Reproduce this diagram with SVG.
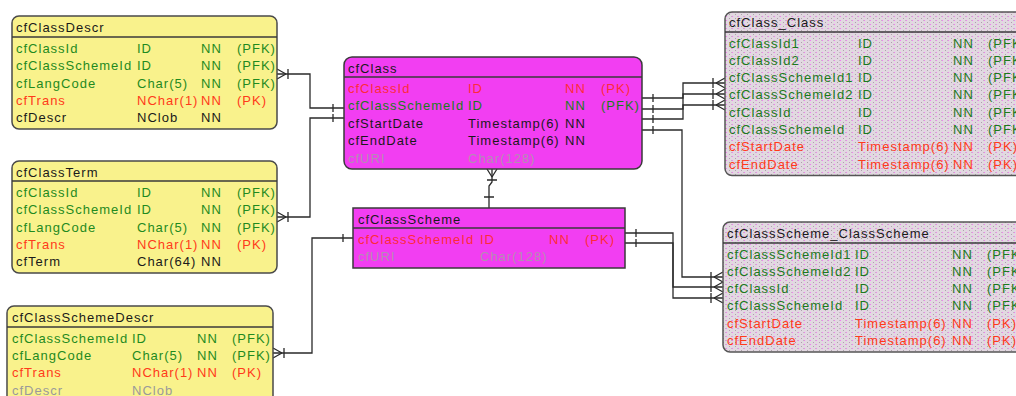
<svg xmlns="http://www.w3.org/2000/svg" width="1016" height="396" viewBox="0 0 1016 396">
<defs>
<pattern id="dots" width="6" height="4" patternUnits="userSpaceOnUse">
<rect width="6" height="4" fill="#e2d8e1"/>
<rect x="0" y="0" width="1" height="1" fill="#f07ef0"/>
<rect x="3" y="2" width="1" height="1" fill="#aca2ab"/>
<rect x="5" y="0" width="1" height="1" fill="#c4bac3"/>
</pattern>
</defs>
<style>
text{font-family:"Liberation Sans",Arial,sans-serif;font-size:13px;letter-spacing:1px;fill:#1a1a1a}
.y{fill:#f9f28c;stroke:#4a4a4a;stroke-width:1.5}
.m{fill:#f23ef2;stroke:#3a3a3a;stroke-width:1.5}
.p{fill:url(#dots);stroke:#555;stroke-width:1.5}
.hl{stroke:#3a3a3a;stroke-width:1.5}
.g{fill:#1f8a1f}
.gm{fill:#1c7a1c}
.r{fill:#ff3a1a}
.rm{fill:#ff2a3a}
.gr{fill:#9a9a9a}
.gl{fill:#b48cb4}
.c{fill:none;stroke:#2a2a2a;stroke-width:1.3}
</style>

<g id="connectors">
<path class="c" d="M277,74 H310 V108 H344"/>
<path class="c" d="M277,69 L286,74 M277,79 L286,74 M288,69 V79 M333,104 V112"/>
<path class="c" d="M277,217 H310 V118 H344"/>
<path class="c" d="M277,212 L286,217 M277,222 L286,217 M288,212 V222 M333,114 V122"/>
<path class="c" d="M273,353 H312 V238 H353"/>
<path class="c" d="M273,348 L282,353 M273,358 L282,353 M284,348 V358 M343,234 V242"/>
<path class="c" d="M492,169 V182 L489,186 V208"/>
<path class="c" d="M487,169 L492,177 M497,169 L492,177 M487,180 H497 M484,197 H494"/>
<path class="c" d="M642,98 H683 V83 H725"/>
<path class="c" d="M642,109 H683 V94 H725"/>
<path class="c" d="M642,119 H683 V105 H725"/>
<path class="c" d="M725,78 L716,83 M725,88 L716,83 M713,78 V88"/>
<path class="c" d="M725,89 L716,94 M725,99 L716,94 M713,89 V99"/>
<path class="c" d="M725,100 L716,105 M725,110 L716,105 M713,100 V110"/>
<path class="c" d="M653,94 V102 M653,105 V113 M653,115 V123 M653,126 V134"/>
<path class="c" d="M642,130 H682 V277 H723"/>
<path class="c" d="M723,272 L714,277 M723,282 L714,277 M711,272 V282"/>
<path class="c" d="M625,233 H673 V287 H723"/>
<path class="c" d="M625,243 H673 V298 H723"/>
<path class="c" d="M723,282 L714,287 M723,292 L714,287 M711,282 V292"/>
<path class="c" d="M723,293 L714,298 M723,303 L714,298 M711,293 V303"/>
<path class="c" d="M636,229 V237 M636,239 V247"/>
</g>

<g id="cfClassDescr">
<rect class="y" x="12" y="16" width="265" height="113" rx="7"/>
<line class="hl" x1="12" y1="37" x2="277" y2="37"/>
<text x="16" y="32">cfClassDescr</text>
<text class="g" x="16" y="52.5">cfClassId</text><text class="g" x="137" y="52.5">ID</text><text class="g" x="201" y="52.5">NN</text><text class="g" x="237" y="52.5">(PFK)</text>
<text class="g" x="16" y="70">cfClassSchemeId</text><text class="g" x="137" y="70">ID</text><text class="g" x="201" y="70">NN</text><text class="g" x="237" y="70">(PFK)</text>
<text class="g" x="16" y="87.5">cfLangCode</text><text class="g" x="137" y="87.5">Char(5)</text><text class="g" x="201" y="87.5">NN</text><text class="g" x="237" y="87.5">(PFK)</text>
<text class="r" x="16" y="104.5">cfTrans</text><text class="r" x="137" y="104.5">NChar(1)</text><text class="r" x="201" y="104.5">NN</text><text class="r" x="237" y="104.5">(PK)</text>
<text x="16" y="122">cfDescr</text><text x="137" y="122">NClob</text><text x="201" y="122">NN</text>
</g>

<g id="cfClassTerm">
<rect class="y" x="12" y="161" width="265" height="112" rx="7"/>
<line class="hl" x1="12" y1="181" x2="277" y2="181"/>
<text x="16" y="177">cfClassTerm</text>
<text class="g" x="16" y="196.5">cfClassId</text><text class="g" x="137" y="196.5">ID</text><text class="g" x="201" y="196.5">NN</text><text class="g" x="237" y="196.5">(PFK)</text>
<text class="g" x="16" y="214">cfClassSchemeId</text><text class="g" x="137" y="214">ID</text><text class="g" x="201" y="214">NN</text><text class="g" x="237" y="214">(PFK)</text>
<text class="g" x="16" y="231.5">cfLangCode</text><text class="g" x="137" y="231.5">Char(5)</text><text class="g" x="201" y="231.5">NN</text><text class="g" x="237" y="231.5">(PFK)</text>
<text class="r" x="16" y="248.5">cfTrans</text><text class="r" x="137" y="248.5">NChar(1)</text><text class="r" x="201" y="248.5">NN</text><text class="r" x="237" y="248.5">(PK)</text>
<text x="16" y="266">cfTerm</text><text x="137" y="266">Char(64)</text><text x="201" y="266">NN</text>
</g>

<g id="cfClassSchemeDescr">
<rect class="y" x="7" y="306" width="266" height="110" rx="7"/>
<line class="hl" x1="7" y1="327" x2="273" y2="327"/>
<text x="12" y="322">cfClassSchemeDescr</text>
<text class="g" x="12" y="342.5">cfClassSchemeId</text><text class="g" x="132" y="342.5">ID</text><text class="g" x="197" y="342.5">NN</text><text class="g" x="232" y="342.5">(PFK)</text>
<text class="g" x="12" y="360">cfLangCode</text><text class="g" x="132" y="360">Char(5)</text><text class="g" x="197" y="360">NN</text><text class="g" x="232" y="360">(PFK)</text>
<text class="r" x="12" y="377">cfTrans</text><text class="r" x="132" y="377">NChar(1)</text><text class="r" x="197" y="377">NN</text><text class="r" x="232" y="377">(PK)</text>
<text class="gr" x="12" y="394.5">cfDescr</text><text class="gr" x="132" y="394.5">NClob</text>
</g>

<g id="cfClass">
<rect class="m" x="344" y="57" width="298" height="112" rx="8"/>
<line class="hl" x1="344" y1="77" x2="642" y2="77"/>
<text x="348" y="72.5">cfClass</text>
<text class="rm" x="348" y="92.5">cfClassId</text><text class="rm" x="468" y="92.5">ID</text><text class="rm" x="565" y="92.5">NN</text><text class="rm" x="601" y="92.5">(PK)</text>
<text class="gm" x="348" y="110">cfClassSchemeId</text><text class="gm" x="468" y="110">ID</text><text class="gm" x="565" y="110">NN</text><text class="gm" x="601" y="110">(PFK)</text>
<text x="348" y="127.5">cfStartDate</text><text x="468" y="127.5">Timestamp(6)</text><text x="565" y="127.5">NN</text>
<text x="348" y="145">cfEndDate</text><text x="468" y="145">Timestamp(6)</text><text x="565" y="145">NN</text>
<text class="gl" x="348" y="162.5">cfURI</text><text class="gl" x="468" y="162.5">Char(128)</text>
</g>

<g id="cfClassScheme">
<rect class="m" x="353" y="208" width="272" height="60"/>
<line class="hl" x1="353" y1="228" x2="625" y2="228"/>
<text x="358" y="224">cfClassScheme</text>
<text class="rm" x="358" y="243.5">cfClassSchemeId</text><text class="rm" x="480" y="243.5">ID</text><text class="rm" x="549" y="243.5">NN</text><text class="rm" x="585" y="243.5">(PK)</text>
<text class="gl" x="358" y="261">cfURI</text><text class="gl" x="480" y="261">Char(128)</text>
</g>

<g id="cfClass_Class">
<rect class="p" x="725" y="12" width="320" height="163.5" rx="7"/>
<line class="hl" x1="725" y1="32" x2="1016" y2="32"/>
<text x="729" y="27">cfClass_Class</text>
<text class="gm" x="729" y="47.5">cfClassId1</text><text class="gm" x="858" y="47.5">ID</text><text class="gm" x="953" y="47.5">NN</text><text class="gm" x="988" y="47.5">(PFK)</text>
<text class="gm" x="729" y="64.8">cfClassId2</text><text class="gm" x="858" y="64.8">ID</text><text class="gm" x="953" y="64.8">NN</text><text class="gm" x="988" y="64.8">(PFK)</text>
<text class="gm" x="729" y="82.1">cfClassSchemeId1</text><text class="gm" x="858" y="82.1">ID</text><text class="gm" x="953" y="82.1">NN</text><text class="gm" x="988" y="82.1">(PFK)</text>
<text class="gm" x="729" y="99.4">cfClassSchemeId2</text><text class="gm" x="858" y="99.4">ID</text><text class="gm" x="953" y="99.4">NN</text><text class="gm" x="988" y="99.4">(PFK)</text>
<text class="gm" x="729" y="116.7">cfClassId</text><text class="gm" x="858" y="116.7">ID</text><text class="gm" x="953" y="116.7">NN</text><text class="gm" x="988" y="116.7">(PFK)</text>
<text class="gm" x="729" y="134">cfClassSchemeId</text><text class="gm" x="858" y="134">ID</text><text class="gm" x="953" y="134">NN</text><text class="gm" x="988" y="134">(PFK)</text>
<text class="r" x="729" y="151.3">cfStartDate</text><text class="r" x="858" y="151.3">Timestamp(6)</text><text class="r" x="953" y="151.3">NN</text><text class="r" x="988" y="151.3">(PK)</text>
<text class="r" x="729" y="168.6">cfEndDate</text><text class="r" x="858" y="168.6">Timestamp(6)</text><text class="r" x="953" y="168.6">NN</text><text class="r" x="988" y="168.6">(PK)</text>
</g>

<g id="cfClassScheme_ClassScheme">
<rect class="p" x="723" y="222" width="320" height="130" rx="7"/>
<line class="hl" x1="723" y1="243" x2="1016" y2="243"/>
<text x="727" y="238">cfClassScheme_ClassScheme</text>
<text class="gm" x="727" y="258.5">cfClassSchemeId1</text><text class="gm" x="855" y="258.5">ID</text><text class="gm" x="952" y="258.5">NN</text><text class="gm" x="987" y="258.5">(PFK)</text>
<text class="gm" x="727" y="275.8">cfClassSchemeId2</text><text class="gm" x="855" y="275.8">ID</text><text class="gm" x="952" y="275.8">NN</text><text class="gm" x="987" y="275.8">(PFK)</text>
<text class="gm" x="727" y="293.1">cfClassId</text><text class="gm" x="855" y="293.1">ID</text><text class="gm" x="952" y="293.1">NN</text><text class="gm" x="987" y="293.1">(PFK)</text>
<text class="gm" x="727" y="310.4">cfClassSchemeId</text><text class="gm" x="855" y="310.4">ID</text><text class="gm" x="952" y="310.4">NN</text><text class="gm" x="987" y="310.4">(PFK)</text>
<text class="r" x="727" y="327.7">cfStartDate</text><text class="r" x="855" y="327.7">Timestamp(6)</text><text class="r" x="952" y="327.7">NN</text><text class="r" x="987" y="327.7">(PK)</text>
<text class="r" x="727" y="345">cfEndDate</text><text class="r" x="855" y="345">Timestamp(6)</text><text class="r" x="952" y="345">NN</text><text class="r" x="987" y="345">(PK)</text>
</g>
</svg>
